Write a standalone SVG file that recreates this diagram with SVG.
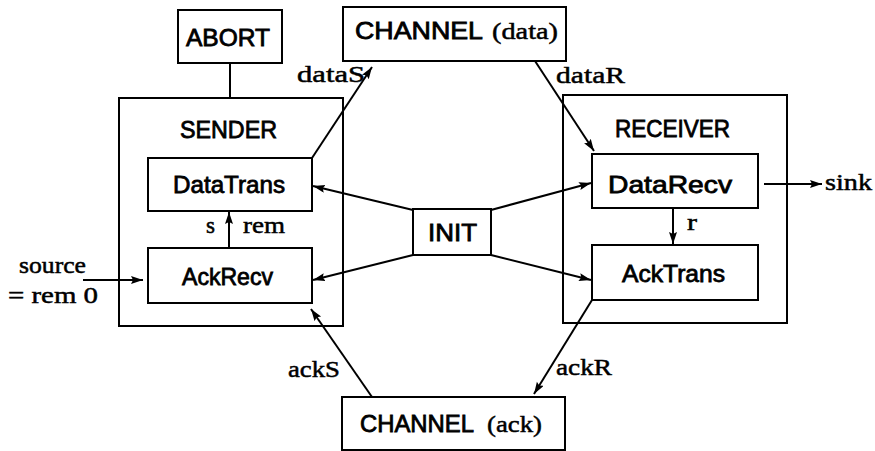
<svg xmlns="http://www.w3.org/2000/svg" width="875" height="451" viewBox="0 0 875 451">
  <style>
    .box { fill: none; stroke: #000; stroke-width: 2; }
    .wire { fill: none; stroke: #000; stroke-width: 2; }
    .sans { font-family: "Liberation Sans", Arial, sans-serif; font-size: 24px; fill: #000; stroke: #000; stroke-width: 0.8; }
    .serif { font-family: "Liberation Serif", "Times New Roman", serif; font-size: 24px; fill: #000; stroke: #000; stroke-width: 0.5; }
  </style>
  <defs>
    <marker id="arrow" markerUnits="userSpaceOnUse" markerWidth="13" markerHeight="9" refX="12" refY="4" orient="auto">
      <path d="M0,0 L12,4 L0,8 L2,4 z" fill="#000"/>
    </marker>
  </defs>
  <rect width="875" height="451" fill="#fff"/>

  <!-- connectors and their labels -->
  <g id="connectors">
    <line class="wire" x1="230" y1="63" x2="230" y2="98"/>
    <line class="wire" x1="312" y1="158" x2="372" y2="67" marker-end="url(#arrow)"/>
    <line class="wire" x1="535" y1="61" x2="594" y2="151" marker-end="url(#arrow)"/>
    <line class="wire" x1="413" y1="210" x2="313" y2="186" marker-end="url(#arrow)"/>
    <line class="wire" x1="491" y1="210" x2="591" y2="183" marker-end="url(#arrow)"/>
    <line class="wire" x1="413" y1="255" x2="313" y2="280" marker-end="url(#arrow)"/>
    <line class="wire" x1="491" y1="255" x2="591" y2="280" marker-end="url(#arrow)"/>
    <line class="wire" x1="229" y1="248" x2="229" y2="212" marker-end="url(#arrow)"/>
    <line class="wire" x1="673" y1="208" x2="673" y2="244" marker-end="url(#arrow)"/>
    <line class="wire" x1="764" y1="184" x2="822" y2="184" marker-end="url(#arrow)"/>
    <line class="wire" x1="83" y1="280" x2="143" y2="280" marker-end="url(#arrow)"/>
    <line class="wire" x1="372" y1="397" x2="311" y2="309" marker-end="url(#arrow)"/>
    <line class="wire" x1="592" y1="300" x2="534" y2="394" marker-end="url(#arrow)"/>

    <text class="serif" x="297" y="82" textLength="68" lengthAdjust="spacingAndGlyphs">dataS</text>
    <text class="serif" x="556" y="83" textLength="69" lengthAdjust="spacingAndGlyphs">dataR</text>
    <text class="serif" x="206" y="233" textLength="9" lengthAdjust="spacingAndGlyphs">s</text>
    <text class="serif" x="243" y="233" textLength="42" lengthAdjust="spacingAndGlyphs">rem</text>
    <text class="serif" x="687" y="230" textLength="10" lengthAdjust="spacingAndGlyphs">r</text>
    <text class="serif" x="825" y="190" textLength="47" lengthAdjust="spacingAndGlyphs">sink</text>
    <text class="serif" x="19" y="273" textLength="67" lengthAdjust="spacingAndGlyphs">source</text>
    <text class="serif" x="8" y="303" textLength="90" lengthAdjust="spacingAndGlyphs">= rem 0</text>
    <text class="serif" x="288" y="377" textLength="52" lengthAdjust="spacingAndGlyphs">ackS</text>
    <text class="serif" x="556" y="375" textLength="56" lengthAdjust="spacingAndGlyphs">ackR</text>
  </g>

  <g id="abort">
    <rect class="box" x="178" y="10" width="104" height="53"/>
    <text class="sans" x="186" y="46" textLength="84" lengthAdjust="spacingAndGlyphs">ABORT</text>
  </g>

  <g id="channel-data">
    <rect class="box" x="343" y="7" width="223" height="54"/>
    <text class="sans" x="355" y="39" textLength="128" lengthAdjust="spacingAndGlyphs">CHANNEL</text>
    <text class="serif" x="492" y="39" textLength="66" lengthAdjust="spacingAndGlyphs">(data)</text>
  </g>

  <g id="sender">
    <rect class="box" x="119" y="98" width="224" height="228"/>
    <text class="sans" x="180" y="138" textLength="97" lengthAdjust="spacingAndGlyphs">SENDER</text>
  </g>

  <g id="datatrans">
    <rect class="box" x="148" y="158" width="164" height="53"/>
    <text class="sans" x="173" y="193" textLength="112" lengthAdjust="spacingAndGlyphs">DataTrans</text>
  </g>

  <g id="ackrecv">
    <rect class="box" x="148" y="248" width="164" height="55"/>
    <text class="sans" x="182" y="285" textLength="91" lengthAdjust="spacingAndGlyphs">AckRecv</text>
  </g>

  <g id="init">
    <rect class="box" x="413" y="209" width="78" height="46"/>
    <text class="sans" x="428" y="241" textLength="49" lengthAdjust="spacingAndGlyphs">INIT</text>
  </g>

  <g id="receiver">
    <rect class="box" x="563" y="95" width="224" height="228"/>
    <text class="sans" x="615" y="137" textLength="115" lengthAdjust="spacingAndGlyphs">RECEIVER</text>
  </g>

  <g id="datarecv">
    <rect class="box" x="592" y="154" width="166" height="54"/>
    <text class="sans" x="608" y="193" textLength="124" lengthAdjust="spacingAndGlyphs">DataRecv</text>
  </g>

  <g id="acktrans">
    <rect class="box" x="592" y="245" width="166" height="55"/>
    <text class="sans" x="622" y="282" textLength="103" lengthAdjust="spacingAndGlyphs">AckTrans</text>
  </g>

  <g id="channel-ack">
    <rect class="box" x="342" y="397" width="223" height="53"/>
    <text class="sans" x="360" y="432" textLength="114" lengthAdjust="spacingAndGlyphs">CHANNEL</text>
    <text class="serif" x="487" y="432" textLength="55" lengthAdjust="spacingAndGlyphs">(ack)</text>
  </g>
</svg>
